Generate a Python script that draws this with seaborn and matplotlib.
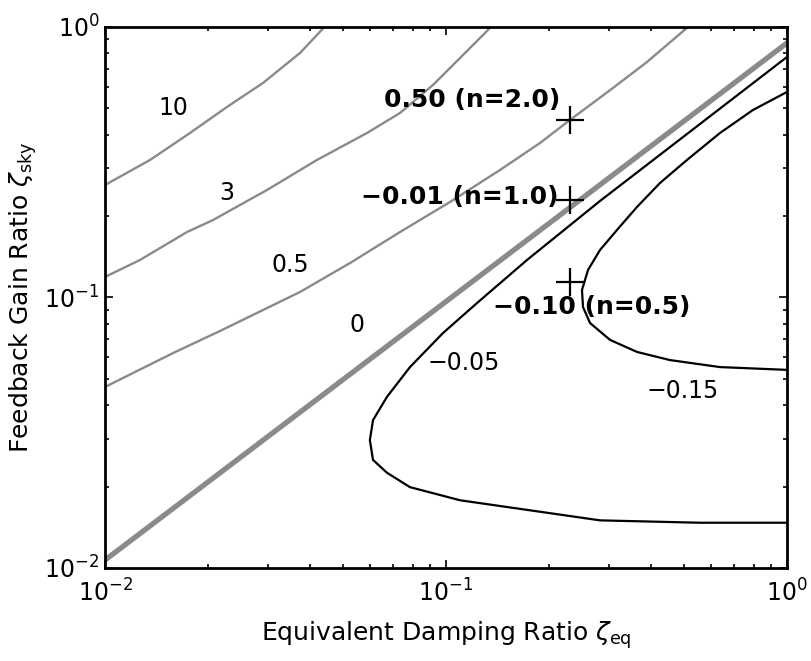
import matplotlib
matplotlib.use("Agg")
import matplotlib.pyplot as plt
import seaborn as sns
from matplotlib.ticker import LogLocator, NullFormatter

# ---- traced contour lines (zeta_eq, zeta_sky) ----
c10_x = [0.0100, 0.01355, 0.01775, 0.02279, 0.02906, 0.03731, 0.04400]
c10_y = [0.2605, 0.3224, 0.4056, 0.5062, 0.6209, 0.8013, 1.0000]

c3_x = [0.0100, 0.01266, 0.01740, 0.02074, 0.02986, 0.04184, 0.05866, 0.07331, 0.09160, 0.1122, 0.1355]
c3_y = [0.1191, 0.1376, 0.1746, 0.1934, 0.2497, 0.3224, 0.4056, 0.4810, 0.6105, 0.7880, 1.0000]

c05_x = [0.0100, 0.01583, 0.02203, 0.03731, 0.05231, 0.07331, 0.1027, 0.1440, 0.1887, 0.2310, 0.3088, 0.3885, 0.5125]
c05_y = [0.0467, 0.0623, 0.0758, 0.1048, 0.1341, 0.1746, 0.2254, 0.2960, 0.3726, 0.4532, 0.5950, 0.7422, 1.0000]

c0_x = [0.0100, 1.0000]
c0_y = [0.0107, 0.8726]

cm005_x = [1.0, 0.2829, 0.1728, 0.1233, 0.0980, 0.0784, 0.0671, 0.06108, 0.0598, 0.06108,
           0.0671, 0.0784, 0.1099, 0.1728, 0.2829, 0.5557, 1.0]
cm005_y = [0.7746, 0.2274, 0.1376, 0.0954, 0.0739, 0.0553, 0.0429, 0.0352, 0.0297, 0.0251,
           0.0225, 0.0199, 0.0178, 0.0164, 0.0150, 0.0147, 0.0147]

cm015_x = [1.0, 0.7949, 0.6361, 0.5090, 0.4242, 0.3632, 0.3173, 0.2829, 0.2609, 0.2505, 0.2522,
           0.2644, 0.3027, 0.3632, 0.4536, 0.6361, 1.0]
cm015_y = [0.5751, 0.4934, 0.4056, 0.3224, 0.2650, 0.2161, 0.1777, 0.1498, 0.1264, 0.1066, 0.0922,
           0.0805, 0.0697, 0.0629, 0.0587, 0.0553, 0.0540]

# design points
mk_x = [0.231, 0.231, 0.231]
mk_y = [0.4532, 0.2293, 0.1141]

# contour labels
lab_text = ["10", "3", "0.5", "0", "\u22120.05", "\u22120.15"]
lab_x = [0.01583, 0.02279, 0.03487, 0.05483, 0.1129, 0.4955]
lab_y = [0.502, 0.2434, 0.1319, 0.0791, 0.0573, 0.0451]

pt_text = ["0.50 (n=2.0)", "\u22120.01 (n=1.0)", "\u22120.10 (n=0.5)"]

GRAY = "#8a8a8a"

sns.set_style("ticks")
plt.rcParams["font.family"] = ["DejaVu Sans"]
plt.rcParams["mathtext.fontset"] = "dejavusans"
plt.rcParams["text.color"] = "black"
plt.rcParams["axes.labelcolor"] = "black"
plt.rcParams["xtick.color"] = "black"
plt.rcParams["ytick.color"] = "black"

fig = plt.figure(figsize=(8.11, 6.61), dpi=100)
ax = fig.add_axes([0.1295, 0.1407, 0.8409, 0.8185])
ax.set_xscale("log")
ax.set_yscale("log")

for xs, ys, col, lw in [
    (c10_x, c10_y, GRAY, 1.7),
    (c3_x, c3_y, GRAY, 1.7),
    (c05_x, c05_y, GRAY, 1.7),
    (c0_x, c0_y, GRAY, 3.8),
    (cm005_x, cm005_y, "black", 1.6),
    (cm015_x, cm015_y, "black", 1.6),
]:
    sns.lineplot(x=xs, y=ys, ax=ax, sort=False, estimator=None, color=col, linewidth=lw)

sns.scatterplot(x=mk_x, y=mk_y, ax=ax, marker="+", s=380, color="black", linewidth=1.6, zorder=5)

for t, x, y in zip(lab_text, lab_x, lab_y):
    ax.text(x, y, t, fontsize=17, ha="center", va="center", color="black")

ax.text(0.2159, 0.5372, pt_text[0], fontsize=18, fontweight="bold", ha="right", va="center", color="black")
ax.text(0.2133, 0.2352, pt_text[1], fontsize=18, fontweight="bold", ha="right", va="center", color="black")
ax.text(0.1373, 0.0922, pt_text[2], fontsize=18, fontweight="bold", ha="left", va="center", color="black")

ax.set_xlim(1e-2, 1)
ax.set_ylim(1e-2, 1)
ax.xaxis.set_major_locator(LogLocator(base=10, numticks=10))
ax.yaxis.set_major_locator(LogLocator(base=10, numticks=10))
ax.xaxis.set_minor_locator(LogLocator(base=10, subs=range(2, 10), numticks=20))
ax.yaxis.set_minor_locator(LogLocator(base=10, subs=range(2, 10), numticks=20))
ax.xaxis.set_minor_formatter(NullFormatter())
ax.yaxis.set_minor_formatter(NullFormatter())

ax.tick_params(which="both", direction="in", top=True, right=True, width=1.2, colors="black")
ax.tick_params(which="major", length=6, labelsize=17)
ax.tick_params(which="minor", length=3)
ax.tick_params(axis="x", which="major", pad=8)
ax.tick_params(axis="y", which="major", pad=4)
for s in ax.spines.values():
    s.set_linewidth(2.0)
    s.set_color("black")

ax.set_xlabel(r"Equivalent Damping Ratio $\zeta_{\mathrm{eq}}$", fontsize=18, labelpad=9)
ax.set_ylabel(r"Feedback Gain Ratio $\zeta_{\mathrm{sky}}$", fontsize=18, labelpad=4)

fig.savefig("out.png", dpi=100, facecolor="white")
